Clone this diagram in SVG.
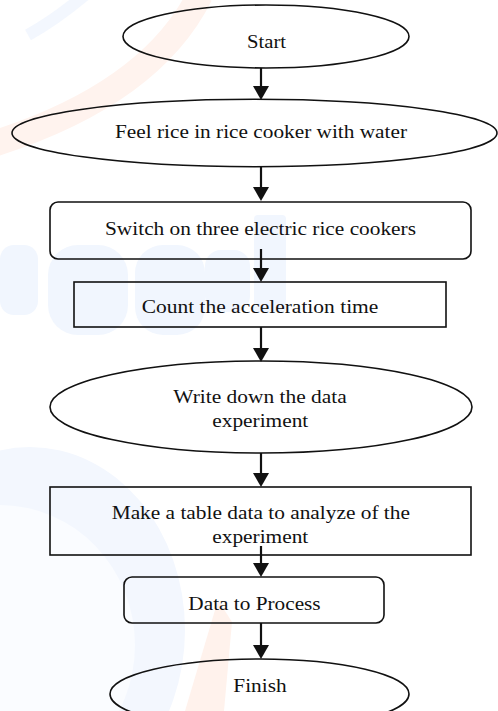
<svg xmlns="http://www.w3.org/2000/svg" width="498" height="711" viewBox="0 0 498 711">
<style>
.shape{fill:none;stroke:#111;stroke-width:1.6}
.conn line{stroke:#111;stroke-width:2.2}
.conn polygon{fill:#111}
.lbl{font-family:'Liberation Serif','Times New Roman',serif;font-size:19px;fill:#111;text-anchor:middle}
.wm-b{fill:#f1f6fe}
</style>
<rect width="498" height="711" fill="#fff"/>
<g id="watermark">
<path d="M 200 -5 Q 150 95 -10 145" fill="none" stroke="#fff3ee" stroke-width="26"/>
<path d="M 28 35 Q 55 20 85 -5" fill="none" stroke="#f3f7fe" stroke-width="12"/>
<rect class="wm-b" x="0" y="245" width="38" height="70" rx="14"/>
<rect class="wm-b" x="48" y="245" width="80" height="90" rx="30"/>
<rect class="wm-b" x="135" y="245" width="70" height="90" rx="28"/>
<rect class="wm-b" x="205" y="250" width="45" height="62" rx="16"/>
<rect class="wm-b" x="254" y="215" width="32" height="97" rx="4"/>
<ellipse cx="30" cy="630" rx="155" ry="183" fill="#f3f7fe"/>
<ellipse cx="0" cy="645" rx="135" ry="140" fill="#fafcff"/>
<polygon points="218,600 232,622 224,711 185,711" fill="#fff2ec"/>
</g>
<g class="conn" id="connectors">
<line x1="261" y1="68" x2="261" y2="88"/><polygon points="253,86 269,86 261,100"/>
<line x1="261" y1="167" x2="261" y2="189"/><polygon points="253,187 269,187 261,201"/>
<line x1="261" y1="249" x2="261" y2="270"/><polygon points="253,268 269,268 261,282"/>
<line x1="261" y1="327" x2="261" y2="350"/><polygon points="253,348 269,348 261,362"/>
<line x1="261" y1="453" x2="261" y2="475"/><polygon points="253,473 269,473 261,487"/>
<line x1="261" y1="546" x2="261" y2="565"/><polygon points="253,563 269,563 261,577"/>
<line x1="261" y1="623" x2="261" y2="647"/><polygon points="253,645 269,645 261,659"/>
</g>
<g id="start">
<ellipse class="shape" cx="266" cy="36.5" rx="143" ry="31.5"/>
<text class="lbl" x="266.5" y="48" textLength="39" lengthAdjust="spacingAndGlyphs">Start</text>
</g>
<g id="feel">
<ellipse class="shape" cx="254.5" cy="133" rx="242.5" ry="33.7"/>
<text class="lbl" x="261" y="138.3" textLength="292" lengthAdjust="spacingAndGlyphs">Feel rice in rice cooker with water</text>
</g>
<g id="switch">
<rect class="shape" x="50" y="202" width="421" height="57" rx="8"/>
<text class="lbl" x="260.5" y="235" textLength="311" lengthAdjust="spacingAndGlyphs">Switch on three electric rice cookers</text>
</g>
<g id="count">
<rect class="shape" x="74" y="282" width="372" height="45"/>
<text class="lbl" x="260" y="313.3" textLength="236.7" lengthAdjust="spacingAndGlyphs">Count the acceleration time</text>
</g>
<g id="write">
<ellipse class="shape" cx="261" cy="407" rx="211" ry="46"/>
<text class="lbl" x="260" y="403.3" textLength="173.3" lengthAdjust="spacingAndGlyphs">Write down the data</text>
<text class="lbl" x="260.3" y="426.7" textLength="96" lengthAdjust="spacingAndGlyphs">experiment</text>
</g>
<g id="table">
<rect class="shape" x="50" y="487" width="421" height="68"/>
<text class="lbl" x="260.8" y="519" textLength="298.3" lengthAdjust="spacingAndGlyphs">Make a table data to analyze of the</text>
<text class="lbl" x="260.3" y="542.7" textLength="96" lengthAdjust="spacingAndGlyphs">experiment</text>
</g>
<g id="process">
<rect class="shape" x="124" y="577" width="260" height="46" rx="8"/>
<text class="lbl" x="254.5" y="610" textLength="132.3" lengthAdjust="spacingAndGlyphs">Data to Process</text>
</g>
<g id="finish">
<ellipse class="shape" cx="259.5" cy="694" rx="149.5" ry="35"/>
<text class="lbl" x="260" y="691.7" textLength="53.3" lengthAdjust="spacingAndGlyphs">Finish</text>
</g>
</svg>
